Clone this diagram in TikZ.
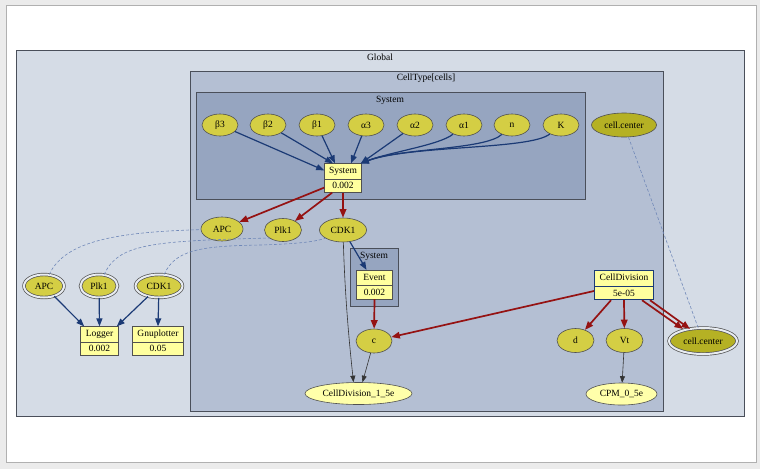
\documentclass[tikz,border=0pt]{standalone}
\usepackage{fontspec}
\setmainfont{Liberation Serif}
\usetikzlibrary{shapes.geometric,shapes.multipart,arrows.meta,calc}
\definecolor{pagegray}{HTML}{EBEBEB}
\definecolor{pageline}{HTML}{B0B0B0}
\definecolor{globalfill}{HTML}{D5DCE6}
\definecolor{celltypefill}{HTML}{B4BFD3}
\definecolor{systemfill}{HTML}{96A5C0}
\definecolor{clusterline}{HTML}{4A4F5A}
\definecolor{olivefill}{HTML}{D4CE44}
\definecolor{darkolive}{HTML}{B5B124}
\definecolor{recfill}{HTML}{FFFF9E}
\definecolor{lightyellow}{HTML}{FFFFAA}
\definecolor{bluearrow}{HTML}{1B3A75}
\definecolor{redarrow}{HTML}{951212}
\definecolor{dashblue}{HTML}{7088B8}
\definecolor{nodeline}{HTML}{505050}
\newcommand\fs{\fontsize{9.5}{11}\selectfont}
\tikzset{
  cluster/.style={draw=clusterline, line width=0.8pt},
  clabel/.style={font=\fs, inner sep=0pt},
  param/.style={ellipse, draw=nodeline, line width=0.6pt, fill=olivefill, minimum width=36pt, minimum height=22pt, inner sep=0pt, font=\fs},
  dbl/.style={param, line width=0.7pt, double=white!45!globalfill, double distance=2pt},
  rec/.style={rectangle split, rectangle split parts=2, draw=nodeline, line width=0.6pt, fill=recfill, inner xsep=0pt, inner ysep=3pt, font=\fs, text height=7pt, text depth=2pt, align=center},
  light/.style={ellipse, draw=nodeline, line width=0.6pt, fill=lightyellow, minimum height=22pt, inner sep=0pt, font=\fs},
  bl/.style={-{Triangle[length=8pt,width=6pt]}, draw=bluearrow, line width=1.2pt},
  rd/.style={-{Triangle[length=8.5pt,width=6.5pt]}, draw=redarrow, line width=1.7pt},
  bk/.style={-{Triangle[length=6.5pt,width=5pt]}, draw=black!80, line width=0.6pt},
  dsh/.style={draw=dashblue, line width=0.6pt, dash pattern=on 3pt off 2pt},
}
\begin{document}
\begin{tikzpicture}[x=1pt,y=-1pt]
\fill[pagegray] (0,0) rectangle (760,469);
\useasboundingbox (0,0) rectangle (760,469);
\draw[pageline, fill=white, line width=0.8pt] (6,5) rectangle (756,462);
% clusters
\draw[cluster, fill=globalfill] (16,50) rectangle (744,416);
\node[clabel] (lglobal) at (380,57) {Global};
\draw[cluster, fill=celltypefill] (190,71) rectangle (663,411);
\node[clabel] (lcelltype) at (426,78) {CellType[cells]};
\draw[cluster, fill=systemfill] (196,92) rectangle (585,199);
\node[clabel] (lsystem) at (390,100) {System};
\draw[cluster, fill=systemfill] (350,248) rectangle (398,306);
\node[clabel] (lsystem2) at (374,256) {System};
% parameter nodes
\node[param] (b3) at (220,125) {β3};
\node[param] (b2) at (268,125) {β2};
\node[param] (b1) at (317,125) {β1};
\node[param] (a3) at (366,125) {α3};
\node[param] (a2) at (415,125) {α2};
\node[param] (a1) at (464,125) {α1};
\node[param] (nn) at (512,125) {n};
\node[param] (kk) at (561,125) {K};
\node[param, fill=darkolive, minimum width=65pt, minimum height=24pt] (cctop) at (624,125) {cell.center};
\node[rec, text width=37pt] (sys) at (343,178) {System\nodepart{two}0.002};
\node[param, minimum width=42pt, minimum height=24pt] (apc) at (222,229) {APC};
\node[param, minimum width=37pt, minimum height=23pt] (plk1) at (283,230) {Plk1};
\node[param, minimum width=47pt, minimum height=24pt] (cdk1) at (343,230) {CDK1};
% left
\node[dbl, minimum width=40pt, minimum height=23pt] (lapc) at (44,286) {APC};
\node[dbl, minimum width=37pt, minimum height=23pt] (lplk1) at (99,286) {Plk1};
\node[dbl, minimum width=47pt, minimum height=23pt] (lcdk1) at (159,286) {CDK1};
\node[rec, text width=38pt] (logger) at (99.5,341) {Logger\nodepart{two}0.002};
\node[rec, text width=51pt] (gnu) at (158,341) {Gnuplotter\nodepart{two}0.05};
% middle
\node[rec, text width=36pt] (event) at (374.5,284.5) {Event\nodepart{two}0.002};
\node[param, minimum width=36pt, minimum height=24pt] (c) at (374,341) {c};
\node[light, minimum width=107pt] (cd15) at (358.5,393.5) {CellDivision\_1\_5e};
% right
\node[rec, text width=59pt, draw=bluearrow, line width=1pt] (celldiv) at (624,285) {CellDivision\nodepart{two}5e-05};
\node[param, minimum width=37pt, minimum height=24pt] (d) at (575.5,340.5) {d};
\node[param, minimum width=37pt, minimum height=24pt] (vt) at (624.5,340.5) {Vt};
\node[dbl, fill=darkolive, minimum width=68pt, minimum height=26pt] (ccb) at (703,341) {cell.center};
\node[light, minimum width=71pt] (cpm) at (621.5,394) {CPM\_0\_5e};
% coordinates
\coordinate (sysin) at ($(sys.north east)+(-1,0)$);
% blue arrows into System
\draw[bl] (b3) -- ($(sys.north west)+(0,7)$);
\draw[bl] (b2) -- ($(sys.north)+(-10,0)$);
\draw[bl] (b1) -- ($(sys.north)+(-8,0)$);
\draw[bl] (a3) -- ($(sys.north)+(8,0)$);
\draw[bl] (a2) -- (sysin);
\draw[bl] (a1) .. controls (440,145) and (390,152) .. (sysin);
\draw[bl] (nn) .. controls (485,150) and (400,148) .. (sysin);
\draw[bl] (kk) .. controls (530,150) and (410,145) .. (sysin);
% red from System
\draw[rd] ($(sys.south west)+(0,-5)$) -- (apc);
\draw[rd] ($(sys.south west)+(8,0)$) -- (plk1);
\draw[rd] (sys.south) -- (cdk1);
% left blue
\draw[bl] (lapc) -- ($(logger.north west)+(4,0)$);
\draw[bl] (lplk1) -- (logger.north);
\draw[bl] (lcdk1) -- ($(logger.north east)+(-2,0)$);
\draw[bl] (lcdk1) -- (gnu.north);
% middle
\draw[bl] (cdk1) -- ($(event.north)+(-8,0)$);
\draw[rd] (event.south) -- (c);
\draw[bk] (cdk1) .. controls (345,300) and (350,350) .. ($(cd15.north)+(-5,0)$);
\draw[bk] (c) -- ($(cd15.north)+(4,0)$);
% right
\draw[rd] ($(celldiv.west)+(0,6)$) -- (c);
\draw[rd] ($(celldiv.south)+(-13,0)$) -- (d);
\draw[rd] (celldiv.south) -- (vt);
\draw[rd] ($(celldiv.south east)+(-12,0)$) -- ($(ccb)+(-20,-12)$);
\draw[rd] ($(celldiv.south east)+(-4,0)$) -- ($(ccb)+(-13,-12)$);
\draw[bk] (vt) -- (cpm);
% dashed links
\draw[dsh] (lapc) .. controls (65,240) and (120,232) .. (apc);
\draw[dsh] (lplk1) .. controls (118,244) and (150,241) .. ($(plk1)+(-13,8)$);
\draw[dsh] (lcdk1) .. controls (175,250) and (200,246) .. (260,245) .. controls (295,244) and (315,242) .. ($(cdk1)+(-17,8)$);
\draw[dsh] (cctop) -- (ccb);
\end{tikzpicture}
\end{document}
